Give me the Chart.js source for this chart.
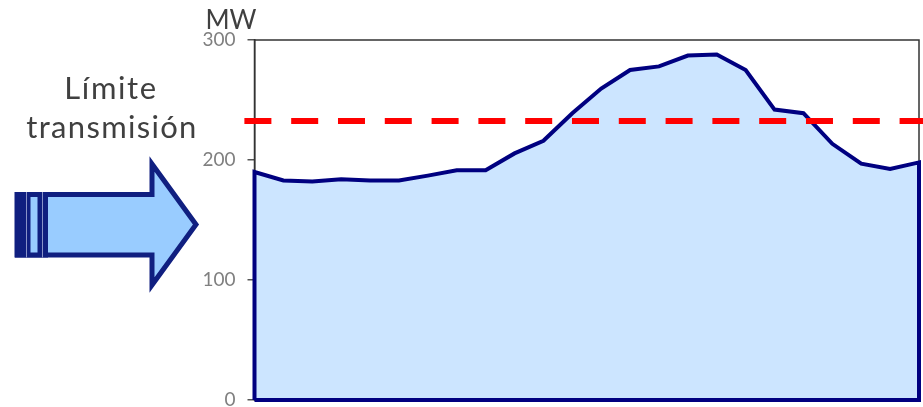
<!DOCTYPE html>
<html lang="es">
<head>
<meta charset="utf-8">
<title>Límite transmisión</title>
<script src="https://cdn.jsdelivr.net/npm/chart.js@4"></script>
<style>
  html, body { margin: 0; padding: 0; background: #fff; overflow: hidden; }
  #wrap { position: relative; width: 923px; height: 407px; font-family: "Comic Sans MS", Lato, sans-serif; color: #404040; }
  #chart { position: absolute; left: 0; top: 0; }
  #arrow { position: absolute; left: 0; top: 0; }
  .label { position: absolute; font-size: 31px; line-height: 40px; white-space: nowrap; text-align: center; }
  #limite { left: 11px; top: 67px; width: 200px; letter-spacing: 1.6px; }
  #transmision { left: 12px; top: 106px; width: 200px; letter-spacing: 1.3px; }
  #unit { left: 205px; top: -1px; width: 52px; font-size: 26px; }
</style>
</head>
<body>
<div id="wrap">
  <canvas id="chart" width="923" height="407"></canvas>
  <svg id="arrow" width="923" height="407">
    <polygon points="17,194.5 152,194.5 152,164 196,224.5 152,285 152,255 17,255" fill="#99ccff" stroke="#101f80" stroke-width="5" stroke-linejoin="miter"/>
    <rect x="15" y="192" width="33" height="65.5" fill="#101f80"/>
    <rect x="30.5" y="197" width="7" height="55.5" fill="#99ccff"/>
    <rect x="26" y="192" width="1" height="65.5" fill="#8a93c8"/>
    <rect x="42" y="192" width="1" height="65.5" fill="#8a93c8"/>
  </svg>
  <div class="label" id="limite">Límite</div>
  <div class="label" id="transmision">transmisión</div>
  <div class="label" id="unit">MW</div>
</div>
<script>
// hourly load, one value per hour (MW)
const hours = [0, 1, 2, 3, 4, 5, 6, 7, 8, 9, 10, 11, 12, 13, 14, 15, 16, 17, 18, 19, 20, 21, 22, 23];
const loadMW = [190, 183, 182, 184, 183, 183, 187, 191.5, 191.5, 205.5, 216, 239, 259.5, 275, 278, 287, 288, 275, 242, 239, 213.5, 197, 192.5, 198];

// transmission limit, runs a little past the axes on both sides
const limitMW = 232.5;
const limitHours = [-0.35, 23.14];

const yTicks = [0, 100, 200, 300];

const loadPoints = hours.map((h, i) => ({ x: h, y: loadMW[i] }));

// the outline is closed down to zero at both ends
const outlinePoints = [
  { x: hours[0], y: 0 },
  ...loadPoints,
  { x: hours[hours.length - 1], y: 0 },
  { x: hours[0], y: 0 },
];

const framePlugin = {
  id: "frame",
  beforeDatasetsDraw(chart) {
    const { ctx, chartArea } = chart;
    ctx.save();
    ctx.strokeStyle = "#333333";
    ctx.lineWidth = 1.5;
    ctx.strokeRect(chartArea.left, chartArea.top, chartArea.right - chartArea.left, chartArea.bottom - chartArea.top);
    ctx.restore();
  },
};

new Chart(document.querySelector("#chart"), {
  type: "line",
  plugins: [framePlugin],
  data: {
    datasets: [
      {
        label: "Límite transmisión",
        data: limitHours.map((h) => ({ x: h, y: limitMW })),
        borderColor: "#ff0000",
        borderWidth: 6,
        borderDash: [27, 19.8],
        borderCapStyle: "butt",
        pointRadius: 0,
        fill: false,
        clip: false,
        order: 0,
      },
      {
        label: "Carga contorno",
        data: outlinePoints,
        borderColor: "#000080",
        borderWidth: 4,
        pointRadius: 0,
        tension: 0,
        fill: false,
        clip: false,
        order: 1,
      },
      {
        label: "Carga",
        data: loadPoints,
        borderWidth: 0,
        backgroundColor: "#cce5ff",
        pointRadius: 0,
        tension: 0,
        fill: "origin",
        order: 2,
      },
    ],
  },
  options: {
    responsive: false,
    animation: false,
    layout: { padding: { top: 40, bottom: 7, right: 4, left: 0 } },
    plugins: { legend: { display: false }, tooltip: { enabled: false } },
    scales: {
      x: { type: "linear", min: hours[0], max: hours[hours.length - 1], display: false },
      y: {
        min: 0,
        max: 300,
        afterFit: (scale) => {
          scale.width = 254.5;
          scale.paddingTop = 0;
          scale.paddingBottom = 0;
        },
        afterBuildTicks: (scale) => { scale.ticks = yTicks.map((v) => ({ value: v })); },
        border: { display: true, color: "#333333", width: 1.5 },
        grid: { drawOnChartArea: false, color: "#555555", tickLength: 7, lineWidth: 1.5 },
        ticks: {
          color: "#808080",
          padding: 12,
          font: { family: '"Comic Sans MS", Lato, sans-serif', size: 19 },
        },
      },
    },
  },
});
</script>
</body>
</html>
